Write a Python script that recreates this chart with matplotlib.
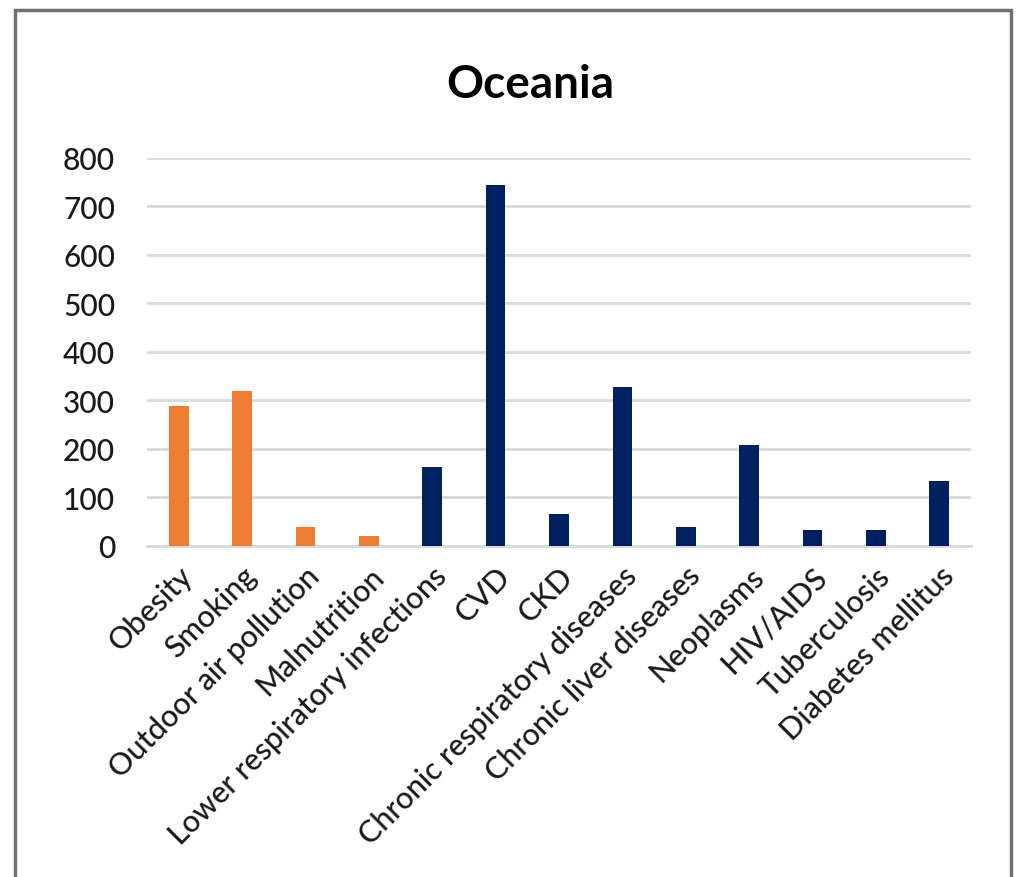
import matplotlib
matplotlib.use("Agg")
import matplotlib.pyplot as plt
from matplotlib.patches import Rectangle

categories = ["Obesity", "Smoking", "Outdoor air pollution", "Malnutrition",
              "Lower respiratory infections", "CVD", "CKD",
              "Chronic respiratory diseases", "Chronic liver diseases",
              "Neoplasms", "HIV/AIDS", "Tuberculosis", "Diabetes mellitus"]
values = [289, 319, 38, 21, 163, 745, 65, 327, 38, 208, 33, 33, 134]
groups = ["risk", "risk", "risk", "risk", "disease", "disease", "disease",
          "disease", "disease", "disease", "disease", "disease", "disease"]
yticks = [0, 100, 200, 300, 400, 500, 600, 700, 800]
title = "Oceania"

group_colors = {"risk": "#ED7D31", "disease": "#002060"}

plt.rcParams['font.family'] = ['Lato', 'DejaVu Sans']

fig = plt.figure(figsize=(10.21, 8.78), dpi=100)
ax = fig.add_axes([147/1021, 1 - 546.7/878, (971-147)/1021, (546.7-159)/878])

x = list(range(len(categories)))
ax.bar(x, values, width=0.31, color=[group_colors[g] for g in groups], zorder=3)

ax.set_xlim(-0.5, len(categories) - 0.5)
ax.set_ylim(0, 800)
ax.set_yticks(yticks)
ax.set_yticklabels([str(v) for v in yticks], fontsize=21.5, color="#1a1a1a",
                   fontweight="medium")
ax.set_xticks(x)
ax.set_xticklabels(categories, rotation=45, ha="right", va="top",
                   rotation_mode="anchor", fontsize=22, color="#1a1a1a",
                   fontweight="medium")
ax.tick_params(axis="both", length=0)
ax.tick_params(axis="x", pad=11)
ax.tick_params(axis="y", pad=23)
ax.grid(axis="y", color="#D9D9D9", linewidth=2, zorder=0)
for s in ["top", "right", "left"]:
    ax.spines[s].set_visible(False)
ax.spines["bottom"].set_color("#D9D9D9")
ax.spines["bottom"].set_linewidth(2)
ax.spines["bottom"].set_zorder(2)

fig.text(530/1021, 1 - 85/878, title, ha="center", va="center",
         fontsize=33, fontweight="bold", color="#000000")

# outer chart border (open at bottom, as in reference)
border = Rectangle((15/1021, -0.05), (1011-15)/1021, 1.05 - 11/878,
                   transform=fig.transFigure, fill=False,
                   edgecolor="#707070", linewidth=2.5)
fig.patches.append(border)

fig.savefig("out.png", dpi=100, facecolor="white")
